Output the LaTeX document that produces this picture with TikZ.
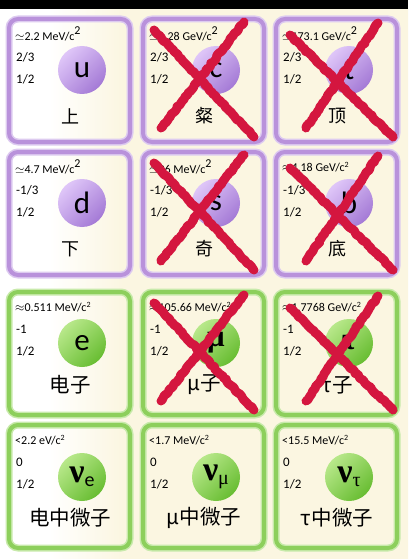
\documentclass[tikz,border=0pt]{standalone}
\usepackage{fontspec}
\setmainfont{Carlito}
\newfontfamily\cjk{Noto Sans CJK SC}
\newfontfamily\grk{Liberation Serif}
\usetikzlibrary{decorations.pathmorphing}
\definecolor{bgcream}{HTML}{FBF6E1}
\definecolor{qline}{HTML}{B992DB}
\definecolor{qglow}{HTML}{DDCBF0}
\definecolor{qtop}{HTML}{DFC6F8}
\definecolor{qbot}{HTML}{A47AD6}
\definecolor{lline}{HTML}{8DCF5C}
\definecolor{lglow}{HTML}{C8EAAB}
\definecolor{ltop}{HTML}{B8E88A}
\definecolor{lbot}{HTML}{68BD32}
\definecolor{xred}{HTML}{D4163F}
\pgfdeclarehorizontalshading{bgshade}{100bp}{color(0bp)=(white); color(31bp)=(white); color(40bp)=(bgcream); color(100bp)=(bgcream)}
\newcommand{\bigsq}{\raisebox{6pt}{2}}

\begin{document}
\begin{tikzpicture}[x=1pt, y=-1pt,
	quarkbox/.style={draw=qline, line width=4pt, rounded corners=9pt, preaction={draw=qglow, line width=7pt}},
	leptonbox/.style={draw=lline, line width=4pt, rounded corners=9pt, preaction={draw=lglow, line width=7pt}},
	mass/.style={anchor=west, inner sep=0pt, font=\fontsize{12}{12}\selectfont},
	qnum/.style={anchor=west, inner sep=0pt, font=\fontsize{13}{13}\selectfont},
	quarkball/.style={circle, minimum size=48pt, inner sep=0pt, top color=qtop, bottom color=qbot, shading angle=45, font=\fontsize{31}{31}\selectfont},
	leptonball/.style={circle, minimum size=48pt, inner sep=0pt, top color=ltop, bottom color=lbot, shading angle=45, font=\fontsize{31}{31}\selectfont},
	qname/.style={inner sep=0pt, font=\cjk\fontsize{18}{18}\selectfont},
	lname/.style={inner sep=0pt, font=\cjk\fontsize{20.5}{20.5}\selectfont},
	cross/.style={draw=xred, line width=9pt, line join=round, line cap=round, decorate, decoration={random steps, segment length=2.5pt, amplitude=0.8pt}}]
	\useasboundingbox (0,0) rectangle (408,559);
	\shade[shading=bgshade] (0,0) rectangle (408,559);
	\fill[black] (0,0) rectangle (408,9);

	% quarks, first row
	\begin{scope}[shift={(9,19)}]
		\draw[quarkbox] (0,0) rectangle (121,123);
		\node[mass] (u-mass) at (6,15) {$\simeq$2.2 MeV/c\bigsq};
		\node[qnum] (u-charge) at (7,38) {2/3};
		\node[qnum] (u-spin) at (7,60) {1/2};
		\node[quarkball] (u-ball) at (73,51) {u};
		\node[qname] (u-name) at (61,97) {上};
	\end{scope}
	\begin{scope}[shift={(143,19)}]
		\draw[quarkbox] (0,0) rectangle (121,123);
		\node[mass] (c-mass) at (6,15) {$\simeq$1.28 GeV/c\bigsq};
		\node[qnum] (c-charge) at (7,38) {2/3};
		\node[qnum] (c-spin) at (7,60) {1/2};
		\node[quarkball] (c-ball) at (73,51) {c};
		\node[qname] (c-name) at (61,97) {粲};
		\draw[cross] (11,11) -- (111,118);
		\draw[cross] (101,3) -- (18,109);
	\end{scope}
	\begin{scope}[shift={(276,19)}]
		\draw[quarkbox] (0,0) rectangle (121,123);
		\node[mass] (t-mass) at (6,15) {$\simeq$173.1 GeV/c\bigsq};
		\node[qnum] (t-charge) at (7,38) {2/3};
		\node[qnum] (t-spin) at (7,60) {1/2};
		\node[quarkball] (t-ball) at (73,51) {t};
		\node[qname] (t-name) at (61,97) {顶};
		\draw[cross] (14,16) -- (117,118);
		\draw[cross] (102,4) -- (30,109);
	\end{scope}

	% quarks, second row
	\begin{scope}[shift={(9,152)}]
		\draw[quarkbox] (0,0) rectangle (121,123);
		\node[mass] (d-mass) at (6,15) {$\simeq$4.7 MeV/c\bigsq};
		\node[qnum] (d-charge) at (7,38) {-1/3};
		\node[qnum] (d-spin) at (7,60) {1/2};
		\node[quarkball] (d-ball) at (73,51) {d};
		\node[qname] (d-name) at (61,97) {下};
	\end{scope}
	\begin{scope}[shift={(143,152)}]
		\draw[quarkbox] (0,0) rectangle (121,123);
		\node[mass] (s-mass) at (6,15) {$\simeq$96 MeV/c\bigsq};
		\node[qnum] (s-charge) at (7,38) {-1/3};
		\node[qnum] (s-spin) at (7,60) {1/2};
		\node[quarkball] (s-ball) at (73,51) {s};
		\node[qname] (s-name) at (61,97) {奇};
		\draw[cross] (11,11) -- (111,118);
		\draw[cross] (101,3) -- (18,109);
	\end{scope}
	\begin{scope}[shift={(276,152)}]
		\draw[quarkbox] (0,0) rectangle (121,123);
		\node[mass] (b-mass) at (6,15) {$\approx$4.18 GeV/c\textsuperscript{2}};
		\node[qnum] (b-charge) at (7,38) {-1/3};
		\node[qnum] (b-spin) at (7,60) {1/2};
		\node[quarkball] (b-ball) at (73,51) {b};
		\node[qname] (b-name) at (61,97) {底};
		\draw[cross] (14,16) -- (117,118);
		\draw[cross] (102,4) -- (30,109);
	\end{scope}

	% leptons, charged
	\begin{scope}[shift={(9,292)}]
		\draw[leptonbox] (0,0) rectangle (121,123);
		\node[mass] (e-mass) at (6,15) {$\approx$0.511 MeV/c\textsuperscript{2}};
		\node[qnum] (e-charge) at (7,37) {-1};
		\node[qnum] (e-spin) at (7,59) {1/2};
		\node[leptonball] (e-ball) at (73,51) {e};
		\node[lname] (e-name) at (61,93) {电子};
	\end{scope}
	\begin{scope}[shift={(143,292)}]
		\draw[leptonbox] (0,0) rectangle (121,123);
		\node[mass] (mu-mass) at (6,15) {$\approx$105.66 MeV/c\textsuperscript{2}};
		\node[qnum] (mu-charge) at (7,37) {-1};
		\node[qnum] (mu-spin) at (7,59) {1/2};
		\node[leptonball] (mu-ball) at (73,51) {\grk\bfseries μ};
		\node[lname] (mu-name) at (61,93) {μ子};
		\draw[cross] (11,11) -- (111,118);
		\draw[cross] (101,3) -- (18,109);
	\end{scope}
	\begin{scope}[shift={(276,292)}]
		\draw[leptonbox] (0,0) rectangle (121,123);
		\node[mass] (tau-mass) at (6,15) {$\approx$1.7768 GeV/c\textsuperscript{2}};
		\node[qnum] (tau-charge) at (7,37) {-1};
		\node[qnum] (tau-spin) at (7,59) {1/2};
		\node[leptonball] (tau-ball) at (73,51) {\grk\bfseries τ};
		\node[lname] (tau-name) at (61,93) {τ子};
		\draw[cross] (14,16) -- (117,118);
		\draw[cross] (102,4) -- (30,109);
	\end{scope}

	% leptons, neutrinos
	\begin{scope}[shift={(9,425)}]
		\draw[leptonbox] (0,0) rectangle (121,123);
		\node[mass] (nue-mass) at (6,15) {<2.2 eV/c\textsuperscript{2}};
		\node[qnum] (nue-charge) at (7,37) {0};
		\node[qnum] (nue-spin) at (7,59) {1/2};
		\node[leptonball] (nue-ball) at (73,52) {{\fontsize{34}{34}\selectfont\grk\bfseries ν}{\fontsize{20}{20}\selectfont\raisebox{-4pt}{e}}};
		\node[lname] (nue-name) at (61,93) {电中微子};
	\end{scope}
	\begin{scope}[shift={(143,425)}]
		\draw[leptonbox] (0,0) rectangle (121,123);
		\node[mass] (numu-mass) at (6,15) {<1.7 MeV/c\textsuperscript{2}};
		\node[qnum] (numu-charge) at (7,37) {0};
		\node[qnum] (numu-spin) at (7,59) {1/2};
		\node[leptonball] (numu-ball) at (73,52) {{\fontsize{34}{34}\selectfont\grk\bfseries ν}{\fontsize{20}{20}\selectfont\grk\raisebox{-4pt}{μ}}};
		\node[lname] (numu-name) at (61,93) {μ中微子};
	\end{scope}
	\begin{scope}[shift={(276,425)}]
		\draw[leptonbox] (0,0) rectangle (121,123);
		\node[mass] (nutau-mass) at (6,15) {<15.5 MeV/c\textsuperscript{2}};
		\node[qnum] (nutau-charge) at (7,37) {0};
		\node[qnum] (nutau-spin) at (7,59) {1/2};
		\node[leptonball] (nutau-ball) at (73,52) {{\fontsize{34}{34}\selectfont\grk\bfseries ν}{\fontsize{20}{20}\selectfont\grk\raisebox{-4pt}{τ}}};
		\node[lname] (nutau-name) at (61,93) {τ中微子};
	\end{scope}
\end{tikzpicture}
\end{document}
